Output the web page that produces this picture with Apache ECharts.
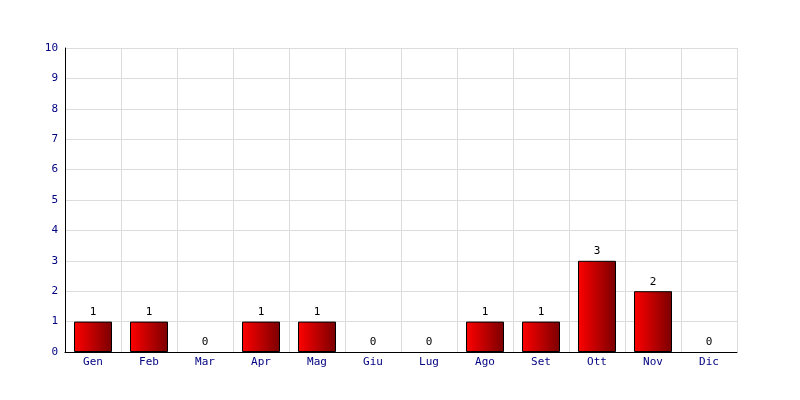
<!DOCTYPE html>
<html><head><meta charset="utf-8">
<script src="https://cdn.jsdelivr.net/npm/echarts@6/dist/echarts.min.js"></script>
<style>html,body{margin:0;padding:0;background:#fff}#c{width:800px;height:400px}</style>
</head><body><div id="c"></div>
<script>
const categories = ['Gen','Feb','Mar','Apr','Mag','Giu','Lug','Ago','Set','Ott','Nov','Dic'];
const values = [1,1,0,1,1,0,0,1,1,3,2,0];
const yMin = 0, yMax = 10, yStep = 1;

const chart = echarts.init(document.getElementById('c'), null, {renderer:'canvas'});
const font = '"DejaVu Sans Mono", monospace';
const barData = values.map(v => v === 0 ? {value: v, itemStyle: {borderWidth: 0}} : v);
chart.setOption({
  animation: false,
  backgroundColor: '#fff',
  grid: {left: 65, right: 63, top: 48, bottom: 48, containLabel: false},
  xAxis: {
    type: 'category', data: categories, boundaryGap: true,
    axisLine: {show: true, lineStyle: {color: '#000', width: 1}},
    axisTick: {show: false},
    axisLabel: {color: '#000080', fontFamily: font, fontSize: 11, margin: 5},
    splitLine: {show: true, lineStyle: {color: '#dcdcdc', width: 1}}
  },
  yAxis: {
    type: 'value', min: yMin, max: yMax, interval: yStep,
    axisLine: {show: true, lineStyle: {color: '#000', width: 1}},
    axisTick: {show: false},
    axisLabel: {color: '#000080', fontFamily: font, fontSize: 11, margin: 7},
    splitLine: {show: true, lineStyle: {color: '#dcdcdc', width: 1}}
  },
  series: [{
    type: 'bar', data: barData, barWidth: 38,
    itemStyle: {
      color: new echarts.graphic.LinearGradient(0,0,1,0,[{offset:0,color:'#ff0000'},{offset:1,color:'#7a0000'}]),
      borderColor: '#000', borderWidth: 1
    },
    label: {show: true, position: 'top', color: '#000', fontFamily: font, fontSize: 11, distance: 4}
  }]
});
</script></body></html>
